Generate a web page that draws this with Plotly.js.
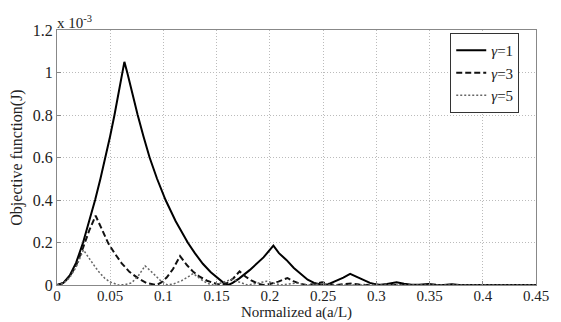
<!DOCTYPE html>
<html><head><meta charset="utf-8">
<script src="https://cdn.plot.ly/plotly-3.0.1.min.js"></script>
<style>body{margin:0;background:#fff}#c{width:561px;height:322px}</style>
</head><body><div id="c"></div>
<script>
// values of J in units of 1e-3
const g1x=[0,0.006,0.012,0.018,0.0245,0.0304,0.0358,0.0408,0.0455,0.0499,0.054,0.0578,0.0614,0.0633,0.066,0.0707,0.0758,0.0812,0.087,0.094,0.102,0.1115,0.1228,0.1295,0.137,0.1445,0.1515,0.1565,0.161,0.165,0.171,0.181,0.194,0.2033,0.2085,0.2155,0.2225,0.2295,0.2355,0.2415,0.2465,0.250,0.255,0.262,0.269,0.2754,0.281,0.288,0.294,0.300,0.304,0.310,0.319,0.326,0.333,0.340,0.349,0.356,0.363,0.371,0.378,0.45];
const g1y=[0,0.01,0.045,0.105,0.2,0.3,0.4,0.5,0.6,0.7,0.8,0.9,1.0,1.05,1.0,0.9,0.8,0.7,0.6,0.5,0.4,0.3,0.2,0.15,0.1,0.06,0.03,0.01,0,0.01,0.03,0.07,0.13,0.185,0.15,0.118,0.08,0.05,0.025,0.01,0.002,0,0.004,0.018,0.035,0.052,0.04,0.024,0.01,0.002,0.001,0.005,0.013,0.006,0.001,0.001,0.005,0.001,0,0.003,0,0];
const g3x=[0,0.006,0.012,0.018,0.0245,0.0304,0.0363,0.042,0.0482,0.054,0.0608,0.068,0.0764,0.084,0.090,0.0937,0.098,0.103,0.109,0.1156,0.122,0.128,0.134,0.141,0.150,0.155,0.160,0.166,0.1715,0.177,0.183,0.189,0.194,0.2,0.208,0.2165,0.222,0.228,0.234,0.240,0.249,0.256,0.262,0.27,0.277,0.284,0.29,0.298,0.305,0.45];
const g3y=[0,0.009,0.04,0.093,0.176,0.258,0.326,0.26,0.196,0.15,0.102,0.062,0.031,0.01,0.002,0,0.012,0.035,0.075,0.136,0.094,0.062,0.039,0.02,0.005,0,0.01,0.033,0.064,0.04,0.02,0.006,0,0.005,0.016,0.033,0.018,0.007,0,0.003,0.013,0.004,0,0.004,0.007,0.002,0,0.003,0,0];
const g5x=[0,0.006,0.012,0.018,0.0248,0.030,0.0357,0.040,0.045,0.050,0.0545,0.058,0.064,0.070,0.076,0.0827,0.088,0.092,0.097,0.1015,0.104,0.11,0.117,0.123,0.128,0.133,0.138,0.143,0.147,0.152,0.159,0.165,0.17,0.175,0.179,0.184,0.19,0.197,0.202,0.207,0.211,0.218,0.225,0.23,0.236,0.242,0.25,0.255,0.26,0.45];
const g5y=[0,0.008,0.035,0.085,0.165,0.125,0.086,0.058,0.031,0.014,0.004,0,0.002,0.01,0.04,0.09,0.066,0.047,0.022,0.006,0,0.006,0.02,0.038,0.054,0.035,0.017,0.005,0,0.006,0.017,0.028,0.016,0.006,0,0.004,0.01,0.018,0.01,0.003,0,0.005,0.01,0.004,0,0.003,0.006,0.002,0,0];
const xTicks=[0,0.05,0.1,0.15,0.2,0.25,0.3,0.35,0.4,0.45];
const xTickText=['0','0.05','0.1','0.15','0.2','0.25','0.3','0.35','0.4','0.45'];
const yTicks=[0,0.2,0.4,0.6,0.8,1,1.2];
const yTickText=['0','0.2','0.4','0.6','0.8','1','1.2'];
const names=['<i>γ</i>=1','<i>γ</i>=3','<i>γ</i>=5'];

const font='Liberation Serif, Times New Roman, serif';
const data=[
 {x:g1x,y:g1y,mode:'lines',name:names[0],line:{color:'#000',width:2,dash:'solid'}},
 {x:g3x,y:g3y,mode:'lines',name:names[1],line:{color:'#111',width:2,dash:'6px,3px'}},
 {x:g5x,y:g5y,mode:'lines',name:names[2],line:{color:'#666',width:1.5,dash:'2px,2px'}}
];
const ax={showline:true,mirror:true,linecolor:'#888',linewidth:1,showgrid:true,gridcolor:'#bbb',griddash:'1px,2px',gridwidth:1,zeroline:false,ticks:'inside',ticklen:4,tickcolor:'#888',tickfont:{family:font,size:16,color:'#222'}};
const layout={
 width:561,height:322,margin:{l:57,r:25,t:30,b:37},
 paper_bgcolor:'#fff',plot_bgcolor:'#fff',
 font:{family:font,size:16,color:'#222'},
 xaxis:Object.assign({},ax,{range:[0,0.45],tickvals:xTicks,ticktext:xTickText,ticklabelstandoff:-3,tickfont:{family:font,size:15,color:'#222'},title:{text:'Normalized a(a/L)',font:{family:font,size:15,color:'#222'},standoff:3}}),
 yaxis:Object.assign({},ax,{range:[0,1.2],tickvals:yTicks,ticktext:yTickText,title:{text:'Objective function(J)',font:{family:font,size:16,color:'#222'},standoff:6}}),
 showlegend:true,
 legend:{x:0.965,xanchor:'right',y:0.988,yanchor:'top',bgcolor:'#fff',bordercolor:'#333',borderwidth:1,font:{family:font,size:15,color:'#222'},itemwidth:30,tracegroupgap:0},
 annotations:[{xref:'paper',yref:'paper',x:0,y:1,xanchor:'left',yanchor:'bottom',showarrow:false,text:'x 10<sup>-3</sup>',font:{family:font,size:15,color:'#222'},yshift:-3,xshift:-2}]
};
Plotly.newPlot('c',data,layout,{displayModeBar:false,staticPlot:true});
</script></body></html>
